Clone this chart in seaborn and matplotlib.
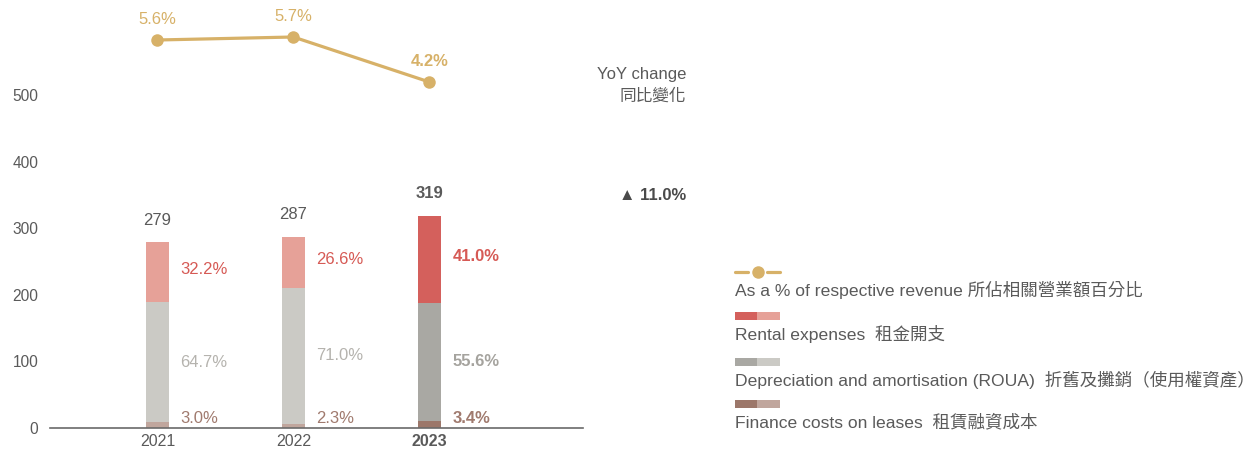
import matplotlib
matplotlib.use("Agg")
import matplotlib.pyplot as plt
from matplotlib.patches import Rectangle
from matplotlib.lines import Line2D
import seaborn as sns
import numpy as np
import pandas as pd

# ---- data ----
years = ["2021", "2022", "2023"]
totals = [279, 287, 319]
rental_pct = [32.2, 26.6, 41.0]
deprec_pct = [64.7, 71.0, 55.6]
finance_pct = [3.0, 2.3, 3.4]
revenue_share = [5.6, 5.7, 4.2]
yoy_change = "11.0%"
y_ticks = [0, 100, 200, 300, 400, 500]

# ---- styling ----
sns.set_theme(style="white")
NUM_FONT = ["Liberation Sans", "DejaVu Sans"]
CJK_FONT = ["Liberation Sans", "Noto Sans CJK TC", "Noto Sans CJK JP", "DejaVu Sans"]
plt.rcParams["font.family"] = NUM_FONT

GREY_TXT = "#5a5a5a"
GOLD = "#d7b168"
RENTAL = ("#e6a198", "#d4605c")
DEPREC = ("#cbcac5", "#a9a8a3")
FINANCE = ("#c0a69d", "#9c776a")
RENTAL_TXT = "#d65a55"
DEPREC_TXT = ("#b5b3ae", "#a5a39e")
FINANCE_TXT = "#a07a6e"

W, H = 1253, 451
fig = plt.figure(figsize=(W / 100, H / 100), dpi=100)

def fx(px):
    return px / W

def fy(py):
    return 1 - py / H

ax_left, ax_right, ax_bottom = 50, 583, 428
ax = fig.add_axes([fx(ax_left), fy(ax_bottom), fx(ax_right - ax_left), ax_bottom / H])

fin = np.array(totals) * np.array(finance_pct) / 100
dep = np.array(totals) * np.array(deprec_pct) / 100
df = pd.DataFrame({"year": years, "total": totals, "fin_dep": fin + dep, "fin": fin})

bar_w = 0.17
hl = [0, 0, 1]
for col, pal in [("total", RENTAL), ("fin_dep", DEPREC), ("fin", FINANCE)]:
    sns.barplot(data=df, x="year", y=col, hue="year",
                palette=[pal[i] for i in hl], width=bar_w, dodge=False,
                legend=False, ax=ax, saturation=1, linewidth=0)

ax.set_xlim(-0.79, 3.13)
ax.set_ylim(0, ax_bottom / 0.666)
ax.set_yticks(y_ticks)
ax.set_yticklabels([str(t) for t in y_ticks])
ax.set_xlabel("")
ax.set_ylabel("")
for s in ["top", "right", "left"]:
    ax.spines[s].set_visible(False)
ax.spines["bottom"].set_color("#6a6a6a")
ax.spines["bottom"].set_linewidth(1.2)
ax.tick_params(axis="y", length=0, pad=8.5, labelsize=11.2, labelcolor=GREY_TXT)
ax.tick_params(axis="x", length=0, pad=4, labelsize=11.5, labelcolor=GREY_TXT)
for lbl in ax.get_yticklabels():
    lbl.set_horizontalalignment("right")
for i, lbl in enumerate(ax.get_xticklabels()):
    if hl[i]:
        lbl.set_fontweight("bold")

# value labels
FS = 12
for i in range(3):
    w = "bold" if hl[i] else "normal"
    ax.text(i, totals[i] + 22, str(totals[i]), ha="center", va="bottom",
            fontsize=FS, color=GREY_TXT, fontweight=w)
    xr = i + 0.17
    ax.text(xr, (fin[i] + dep[i] + totals[i]) / 2 + 4, f"{rental_pct[i]:.1f}%",
            ha="left", va="center", fontsize=FS, color=RENTAL_TXT, fontweight=w)
    ax.text(xr, fin[i] + dep[i] / 2, f"{deprec_pct[i]:.1f}%",
            ha="left", va="center", fontsize=FS, color=DEPREC_TXT[hl[i]], fontweight=w)
    ax.text(xr, 15, f"{finance_pct[i]:.1f}%",
            ha="left", va="center", fontsize=FS, color=FINANCE_TXT, fontweight=w)

# revenue share line on a secondary scale
ax2 = ax.twinx()
ax2.set_ylim(4.2 - (ax_bottom - 82) / 30, 5.6 + 40 / 30)
sns.lineplot(x=[0, 1, 2], y=revenue_share, ax=ax2, color=GOLD, linewidth=2.3,
             marker="o", markersize=9, markeredgewidth=0, legend=False)
ax2.axis("off")
for i, v in enumerate(revenue_share):
    ax2.text(i, v + 0.44, f"{v:.1f}%", ha="center", va="bottom", fontsize=FS,
             color=GOLD, fontweight="bold" if hl[i] else "normal")

# YoY change annotation
fig.text(fx(686), fy(75), "YoY change", ha="right", va="center", fontsize=12,
         color=GREY_TXT, family=CJK_FONT)
fig.text(fx(686), fy(96), "同比變化", ha="right", va="center", fontsize=12,
         color=GREY_TXT, family=CJK_FONT)
fig.text(fx(686), fy(195), "▲ " + yoy_change, ha="right", va="center", fontsize=12,
         color="#4a4a4a", fontweight="bold", family=["Liberation Sans", "DejaVu Sans"])

# legend
lx = 735
fig.add_artist(Line2D([fx(lx), fx(lx + 13)], [fy(272), fy(272)], color=GOLD, lw=2.3,
                      transform=fig.transFigure))
fig.add_artist(Line2D([fx(lx + 32), fx(lx + 45)], [fy(272), fy(272)], color=GOLD, lw=2.3,
                      transform=fig.transFigure))
fig.add_artist(Line2D([fx(lx + 22.5)], [fy(272)], marker="o", markersize=9, color=GOLD,
                      markeredgewidth=0, transform=fig.transFigure))
legend_items = [
    (None, "As a % of respective revenue 所佔相關營業額百分比", 290),
    (RENTAL, "Rental expenses  租金開支", 334),
    (DEPREC, "Depreciation and amortisation (ROUA)  折舊及攤銷（使用權資產）", 380),
    (FINANCE, "Finance costs on leases  租賃融資成本", 422),
]
for pal, label, ty in legend_items:
    if pal is not None:
        fig.add_artist(Rectangle((fx(lx), fy(ty - 14)), fx(22), 8 / H, color=pal[1],
                                 transform=fig.transFigure, lw=0))
        fig.add_artist(Rectangle((fx(lx + 22), fy(ty - 14)), fx(23), 8 / H, color=pal[0],
                                 transform=fig.transFigure, lw=0))
    fig.text(fx(lx), fy(ty), label, ha="left", va="center", fontsize=12.6,
             color=GREY_TXT, family=CJK_FONT)

fig.savefig("out.png", dpi=100)
